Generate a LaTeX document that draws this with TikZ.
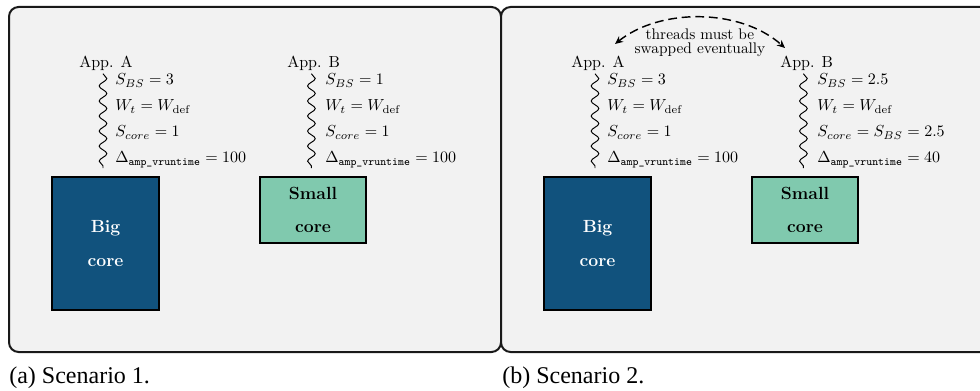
\documentclass[tikz,border=0pt]{standalone}
\usepackage{amsmath}
\usepackage{fontspec}
\newfontfamily\capfont{Liberation Serif}
\usetikzlibrary{positioning,decorations.pathmorphing,arrows.meta}

\definecolor{panelgray}{HTML}{F2F2F2}
\definecolor{bigblue}{HTML}{11527D}
\definecolor{smallgreen}{HTML}{80C9AE}

\begin{document}
\begin{tikzpicture}[x=0.625pt,y=-0.625pt,
    panel/.style={draw=black!90,line width=1.25pt,rounded corners=6pt,fill=panelgray},
    app/.style={anchor=base west,inner sep=0pt},
    stat/.style={anchor=base west,inner sep=0pt},
    wavy/.style={decorate,decoration={snake,amplitude=2.4pt,segment length=9.4pt},line width=0.6pt},
    core/.style={draw=black,line width=0.9pt,align=center,font=\fontsize{11}{21}\selectfont\bfseries},
    bigcore/.style={core,fill=bigblue,text=white,minimum width=66.9pt,minimum height=83.1pt},
    smallcore/.style={core,fill=smallgreen,minimum width=66.3pt,minimum height=41.3pt},
    swaparrow/.style={dashed,dash pattern=on 5.5pt off 3pt,line width=0.9pt,{Stealth[length=5pt,width=4.5pt]}-{Stealth[length=5pt,width=4.5pt]}},
    caption/.style={anchor=base west,inner sep=0pt,font=\capfont\fontsize{15}{18}\selectfont}]

  \useasboundingbox (0,0) rectangle (980,391);
  \clip (0,0) rectangle (980,391);

  % the two frames
  \draw[panel] (9,7) rectangle (501,352);
  \draw[panel] (501,7) rectangle (993,352);

  % scenario 1
  \node[app] (appA1) at (79,68) {App. A};
  \node[stat] (sbsA1) at (115,85) {$S_{BS} = 3$};
  \node[stat] (wtA1) at (115,111) {$W_t = W_{\mathrm{def}}$};
  \node[stat] (scA1) at (115,137) {$S_{core} = 1$};
  \node[stat] (dltA1) at (115,163) {$\Delta_{\texttt{amp\_vruntime}} = 100$};
  \draw[wavy] ([xshift=-7.5pt]sbsA1.north west) -- ([xshift=-7.5pt]dltA1.south west);

  \node[app] (appB1) at (287,68) {App. B};
  \node[stat] (sbsB1) at (325,85) {$S_{BS} = 1$};
  \node[stat] (wtB1) at (325,111) {$W_t = W_{\mathrm{def}}$};
  \node[stat] (scB1) at (325,137) {$S_{core} = 1$};
  \node[stat] (dltB1) at (325,163) {$\Delta_{\texttt{amp\_vruntime}} = 100$};
  \draw[wavy] ([xshift=-8.5pt]sbsB1.north west) -- ([xshift=-8.5pt]dltB1.south west);

  \node[bigcore] (big1) at (105.5,243.5) {Big\\core};
  \node[smallcore] (small1) at (313,210) {Small\\core};

  % scenario 2
  \begin{scope}[shift={(492,0)}]
    \node[app] (appA2) at (79,68) {App. A};
    \node[stat] (sbsA2) at (115,85) {$S_{BS} = 3$};
    \node[stat] (wtA2) at (115,111) {$W_t = W_{\mathrm{def}}$};
    \node[stat] (scA2) at (115,137) {$S_{core} = 1$};
    \node[stat] (dltA2) at (115,163) {$\Delta_{\texttt{amp\_vruntime}} = 100$};
    \draw[wavy] ([xshift=-7.5pt]sbsA2.north west) -- ([xshift=-7.5pt]dltA2.south west);

    \node[app] (appB2) at (288,68) {App. B};
    \node[stat] (sbsB2) at (325,85) {$S_{BS} = 2.5$};
    \node[stat] (wtB2) at (325,111) {$W_t = W_{\mathrm{def}}$};
    \node[stat] (scB2) at (325,137) {$S_{core} = S_{BS} = 2.5$};
    \node[stat] (dltB2) at (325,163) {$\Delta_{\texttt{amp\_vruntime}} = 40$};
    \draw[wavy] ([xshift=-8.5pt]sbsB2.north west) -- ([xshift=-8.5pt]dltB2.south west);

    \node[bigcore] (big2) at (105.5,243.5) {Big\\core};
    \node[smallcore] (small2) at (313,210) {Small\\core};

    % threads swap between the two apps
    \coordinate (tipA) at (123,44);
    \coordinate (tipB) at (293,48);
    \draw[swaparrow] (tipA) .. controls (168,8) and (248,8) .. (tipB);
    \node[font=\fontsize{9.6}{8.8}\selectfont,align=center,inner sep=0pt] (swaplbl) at (208,43) {threads must be\\swapped eventually};
  \end{scope}

  % captions
  \node[caption] (capA) at (9,383) {(a) Scenario 1.};
  \node[caption] (capB) at (502,383) {(b) Scenario 2.};
\end{tikzpicture}
\end{document}
